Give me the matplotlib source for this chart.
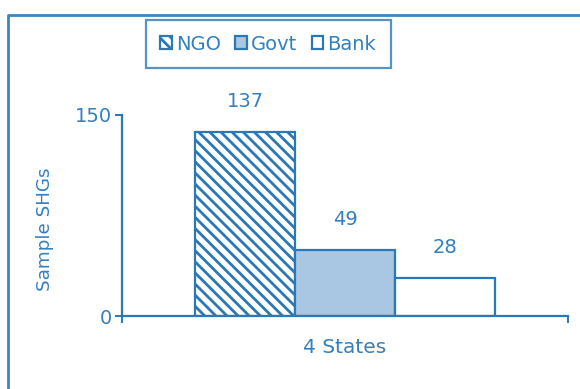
import matplotlib.pyplot as plt
from matplotlib.patches import Patch
from matplotlib.lines import Line2D

plt.rcParams['font.family'] = ['DejaVu Sans']
plt.rcParams['hatch.linewidth'] = 2.0

# Sample SHGs by promoting agency, pooled over 4 states
category = '4 States'
agencies = ['NGO', 'Govt', 'Bank']
shgs = [137, 49, 28]

blue = '#2a78b6'
text_blue = '#3380bf'
fills = ['white', '#a9c6e2', 'white']
hatches = ['\\\\\\', '', '']

fig = plt.figure(figsize=(5.8, 3.89), dpi=100)
ax = fig.add_axes([122 / 580, 73 / 389, 446 / 580, 201 / 389])

offsets = [-1, 0, 1]
for off, name, val, fc, h in zip(offsets, agencies, shgs, fills, hatches):
    ax.bar(off, val, width=1.0, color=fc, edgecolor=blue, linewidth=1.6,
           hatch=h, label=name)
    ax.annotate(str(val), (off, val), xytext=(0, 31), textcoords='offset pixels',
                ha='center', va='center', fontsize=14, color=text_blue)

xmin, xmax = -2.23, 2.23
ax.set_xlim(xmin, xmax)
ax.set_ylim(0, 150)
ax.set_yticks([0, 150])
ax.set_xticks([0])
ax.set_xticklabels([category])
ax.set_xticks([xmin, xmax], minor=True)
ax.tick_params(axis='x', which='major', length=0, pad=16, labelsize=14.5,
               labelcolor=text_blue)
ax.tick_params(axis='x', which='minor', length=5, width=1.4, color=blue)
ax.tick_params(axis='y', length=5, width=1.4, color=blue, labelsize=14,
               labelcolor=text_blue, pad=2)
for side in ['top', 'right']:
    ax.spines[side].set_visible(False)
for side in ['left', 'bottom']:
    ax.spines[side].set_color(blue)
    ax.spines[side].set_linewidth(1.6)
ax.set_ylabel('Sample SHGs', fontsize=13.2, color=text_blue)
ax.yaxis.set_label_coords(-0.152, 0.43)

handles = [Patch(facecolor=fc, edgecolor=blue, hatch=h, linewidth=1.6)
           for fc, h in zip(fills, hatches)]
leg = fig.legend(handles, agencies, loc='center', bbox_to_anchor=(268 / 580, 1 - 44 / 389),
                 ncol=3, fontsize=14, handlelength=0.6, handleheight=0.6,
                 handletextpad=0.2, columnspacing=0.75, fancybox=False,
                 borderpad=0.75, labelcolor=text_blue)
leg.get_frame().set_edgecolor(blue)
leg.get_frame().set_linewidth(1.6)

# outer frame on top and left
fig.add_artist(Line2D([8 / 580, 8 / 580, 1], [0, 1 - 15 / 389, 1 - 15 / 389],
                      color='#3a87c0', linewidth=2, transform=fig.transFigure))

fig.savefig('out.png', dpi=100)
